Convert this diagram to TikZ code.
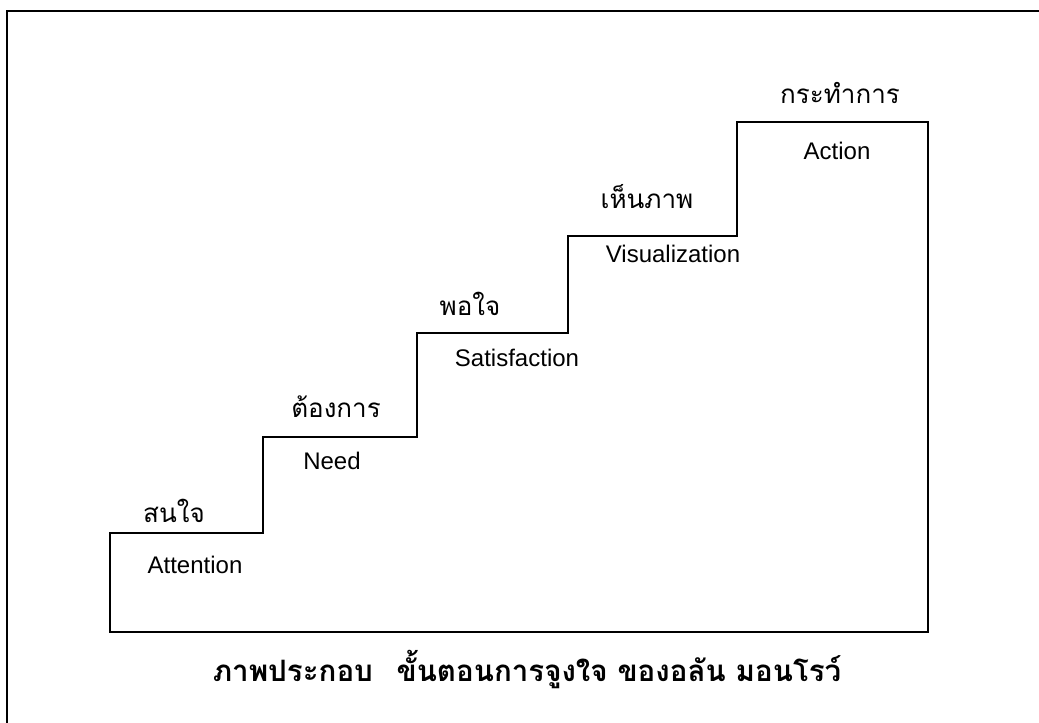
\documentclass[tikz,border=0pt]{standalone}
\usepackage{fontspec}
\setmainfont{Liberation Sans}
\newfontfamily\thaifont[Script=Thai]{Loma}
\usetikzlibrary{positioning}
\tikzstyle{frame}=[draw,line width=1.3pt]
\tikzstyle{stair}=[draw,line width=1.4pt]
\tikzstyle{en}=[font=\fontsize{24}{28}\selectfont,anchor=base,inner sep=0pt]
\tikzstyle{th}=[font=\thaifont\fontsize{26}{30}\selectfont,anchor=base,inner sep=0pt]
\tikzstyle{caption}=[font=\thaifont\bfseries\fontsize{29.5}{33}\selectfont,anchor=base,inner sep=0pt]

\begin{document}
\begin{tikzpicture}[x=1pt,y=-1pt]
    \useasboundingbox (0,0) rectangle (1039,723);
    % outer frame (left and top only)
    \draw[frame] (7,723) -- (7,11) -- (1039,11);
    % corners of the stairs
    \coordinate (base) at (110,632);
    \coordinate (s1) at (110,533);
    \coordinate (s2) at (263,437);
    \coordinate (s3) at (417,333);
    \coordinate (s4) at (568,236);
    \coordinate (s5) at (737,122);
    \coordinate (top) at (928,122);
    \draw[stair] (base) -- (s1) -| (s2) -| (s3) -| (s4) -| (s5) -| (top) |- (base) -- cycle;
    % steps
    \node[th] (att-th) at (174,522) {สนใจ};
    \node[en] (att) at (195,573) {Attention};
    \node[th] (need-th) at (336,417) {ต้องการ};
    \node[en] (need) at (332,469) {Need};
    \node[th] (sat-th) at (470,315) {พอใจ};
    \node[en] (sat) at (517,366) {Satisfaction};
    \node[th] (vis-th) at (647,208) {เห็นภาพ};
    \node[en] (vis) at (673,262) {Visualization};
    \node[th] (act-th) at (840,103) {กระทำการ};
    \node[en] (act) at (837,159) {Action};
    % caption
    \node[caption] (cap) at (527,681) {ภาพประกอบ\hspace{0.8em}ขั้นตอนการจูงใจ ของอลัน มอนโรว์};
\end{tikzpicture}
\end{document}
